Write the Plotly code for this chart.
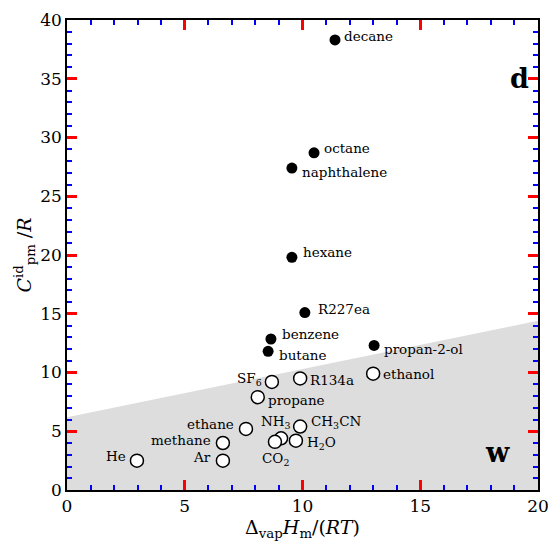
import plotly.graph_objects as go

# Species, reduced enthalpy of vaporisation and reduced ideal-gas heat capacity
names = ["decane", "octane", "naphthalene", "hexane", "R227ea", "benzene", "butane",
         "propan-2-ol", "SF<sub>6</sub>", "R134a", "ethanol", "propane", "ethane",
         "NH<sub>3</sub>", "CH<sub>3</sub>CN", "methane", "H<sub>2</sub>O",
         "CO<sub>2</sub>", "Ar", "He"]
dvap_h = [11.38, 10.49, 9.55, 9.55, 10.1, 8.66, 8.54,
          13.04, 8.7, 9.9, 13.0, 8.1, 7.6,
          9.09, 9.9, 6.62, 9.72,
          8.83, 6.62, 2.97]
cp_id = [38.3, 28.7, 27.4, 19.8, 15.1, 12.85, 11.8,
         12.3, 9.2, 9.5, 9.9, 7.9, 5.2,
         4.4, 5.4, 4.0, 4.2,
         4.1, 2.5, 2.5]
filled = [True, True, True, True, True, True, True,
          True, False, False, False, False, False,
          False, False, False, False,
          False, False, False]

# Boundary of the shaded "w" region
shade_x = [0, 20, 20, 0]
shade_y = [6.2, 14.4, 0, 0]

# Label placement: (xanchor, xshift px, yshift px)
label_style = {
    "decane": ("left", 7, 4),
    "octane": ("left", 8, 5),
    "naphthalene": ("left", 8, -4),
    "hexane": ("left", 9, 5),
    "R227ea": ("left", 11, 4),
    "benzene": ("left", 9, 5),
    "butane": ("left", 9, -4),
    "propan-2-ol": ("left", 8, -4),
    "SF<sub>6</sub>": ("right", -8, 3),
    "R134a": ("left", 8, -2),
    "ethanol": ("left", 8, 0),
    "propane": ("left", 8, -3),
    "ethane": ("right", -10, 5),
    "NH<sub>3</sub>": ("center", -5, 16),
    "CH<sub>3</sub>CN": ("left", 9, 5),
    "methane": ("right", -10, 3),
    "H<sub>2</sub>O": ("left", 9, -2),
    "CO<sub>2</sub>": ("center", 1, -17),
    "Ar": ("right", -10, 4),
    "He": ("right", -9, 5),
}

FONT = "DejaVu Serif"

fig = go.Figure()

fig.add_trace(go.Scatter(
    x=shade_x, y=shade_y, mode="lines", fill="toself",
    fillcolor="#dddddd", line=dict(width=0), hoverinfo="skip", showlegend=False))

fx = [x for x, f in zip(dvap_h, filled) if f]
fy = [y for y, f in zip(cp_id, filled) if f]
ox = [x for x, f in zip(dvap_h, filled) if not f]
oy = [y for y, f in zip(cp_id, filled) if not f]

fig.add_trace(go.Scatter(
    x=fx, y=fy, mode="markers", showlegend=False,
    marker=dict(size=11, color="black", line=dict(width=0))))
fig.add_trace(go.Scatter(
    x=ox, y=oy, mode="markers", showlegend=False,
    marker=dict(size=13, color="white", line=dict(width=1.5, color="black"))))

for name, x, y in zip(names, dvap_h, cp_id):
    anchor, dx, dy = label_style[name]
    fig.add_annotation(x=x, y=y, text=name, showarrow=False,
                       xanchor=anchor, yanchor="middle", xshift=dx, yshift=dy,
                       font=dict(family=FONT, size=13.5, color="black"))

fig.add_annotation(x=0.985, y=0.875, xref="paper", yref="paper", text="<b>d</b>",
                   showarrow=False, xanchor="right", yanchor="middle",
                   font=dict(family=FONT, size=27, color="black"))
fig.add_annotation(x=0.945, y=0.08, xref="paper", yref="paper", text="<b>w</b>",
                   showarrow=False, xanchor="right", yanchor="middle",
                   font=dict(family=FONT, size=27, color="black"))

minor_ticks = dict(dtick=1, ticks="inside", ticklen=5, tickwidth=2, tickcolor="blue")

fig.update_xaxes(
    range=[0, 20], dtick=5, ticks="inside", ticklen=10, tickwidth=2.5, tickcolor="red",
    showline=True, linecolor="black", linewidth=1.5, mirror="allticks",
    showgrid=False, zeroline=False, automargin=False, minor=minor_ticks,
    tickfont=dict(family=FONT, size=17, color="black"),
    title=dict(text="Δ<sub>vap</sub><i>H</i><sub>m</sub>/(<i>RT</i>)",
               font=dict(family=FONT, size=19, color="black"), standoff=2))
fig.update_yaxes(
    range=[0, 40], dtick=5, ticks="inside", ticklen=10, tickwidth=2.5, tickcolor="red",
    showline=True, linecolor="black", linewidth=1.5, mirror="allticks",
    showgrid=False, zeroline=False, automargin=False, minor=minor_ticks,
    tickfont=dict(family=FONT, size=17, color="black"),
    title=dict(text="<i>C</i><sup>id</sup><sub>pm</sub> /<i>R</i>",
               font=dict(family=FONT, size=19, color="black"), standoff=4))

fig.update_layout(
    width=549, height=542,
    margin=dict(l=67, r=11, t=20, b=52),
    plot_bgcolor="white", paper_bgcolor="white",
    font=dict(family=FONT, color="black"),
)

fig.write_html("out.html")
